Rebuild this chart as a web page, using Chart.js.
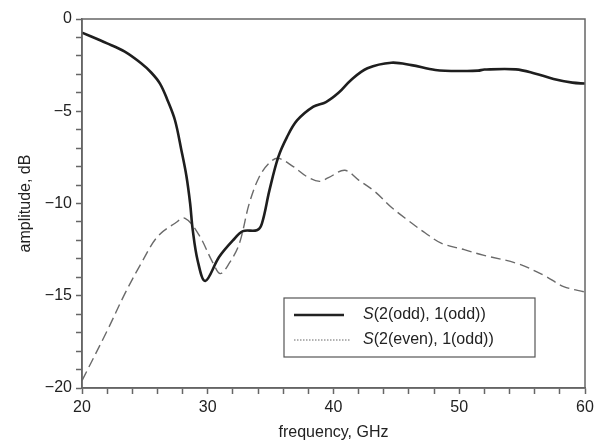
<!DOCTYPE html>
<html>
<head>
<meta charset="utf-8">
<script src="https://cdn.jsdelivr.net/npm/chart.js@4.4.0/dist/chart.umd.min.js"></script>
<style>
  html, body { margin: 0; padding: 0; background: #fff; }
  #wrap { width: 598px; height: 442px; }
</style>
</head>
<body>
<div id="wrap"><canvas id="chart" width="598" height="442"></canvas></div>
<script>
// S(2(odd), 1(odd)) - solid
const freqOdd = [20, 22, 23.4, 24.7, 25.5, 26.2, 26.8, 27.4, 27.9, 28.3, 28.6, 28.8, 29.2, 29.8, 30.9, 32, 32.8, 33.9, 34.3, 34.9, 35.6, 36.3, 37.1, 38.4, 39.4, 40.4, 41.4, 42.7, 44.6, 46.2, 48.1, 50.4, 51.5, 52, 54.5, 56, 57.5, 59, 60];
const ampOdd = [-0.74, -1.32, -1.77, -2.4, -2.9, -3.5, -4.4, -5.5, -7.1, -8.5, -10, -11.4, -13.1, -14.2, -12.9, -12.0, -11.5, -11.45, -11.1, -9.3, -7.5, -6.4, -5.5, -4.75, -4.5, -4.0, -3.3, -2.67, -2.37, -2.5, -2.76, -2.82, -2.8, -2.74, -2.73, -2.95, -3.25, -3.45, -3.5];

// S(2(even), 1(odd)) - dashed
const freqEven = [20, 22, 23.4, 24.7, 26, 27.4, 28.2, 29.3, 30.4, 31, 31.7, 32.5, 33.3, 34.1, 34.9, 35.6, 36.8, 37.9, 38.9, 39.6, 40.9, 42, 43.3, 44.6, 45.9, 47.3, 48.6, 50.4, 51.9, 54.6, 56.75, 58.3, 60];
const ampEven = [-19.6, -16.9, -14.9, -13.25, -11.8, -11.07, -10.8, -11.7, -13.2, -13.8, -13.25, -12.2, -10, -8.55, -7.8, -7.55, -8.0, -8.55, -8.8, -8.6, -8.2, -8.73, -9.36, -10.2, -10.9, -11.6, -12.16, -12.5, -12.8, -13.25, -13.9, -14.5, -14.8];

const seriesLabels = ['(2(odd), 1(odd))', '(2(even), 1(odd))'];

const FONT = 'Liberation Sans, Arial, Helvetica, sans-serif';
const minus = v => (v < 0 ? '\u2212' + Math.abs(v) : String(v));

// box around the plot
const framePlugin = {
    id: 'frame',
    afterDatasetsDraw(chart) {
        const { ctx, chartArea: a } = chart;
        ctx.save();
        ctx.strokeStyle = '#666';
        ctx.lineWidth = 1.5;
        ctx.strokeRect(a.left, a.top, a.right - a.left, a.bottom - a.top);
        ctx.restore();
    }
};

// legend with italic S, drawn inside the plot
const legendPlugin = {
    id: 'boxLegend',
    afterDraw(chart) {
        const ctx = chart.ctx;
        const x = 284, y = 298, w = 251, h = 59;
        ctx.save();
        ctx.fillStyle = '#fff';
        ctx.fillRect(x, y, w, h);
        ctx.strokeStyle = '#555';
        ctx.lineWidth = 1.2;
        ctx.strokeRect(x, y, w, h);

        const rows = [y + 17, y + 42];
        // solid sample
        ctx.strokeStyle = '#222';
        ctx.lineWidth = 2.5;
        ctx.beginPath();
        ctx.moveTo(x + 10, rows[0]);
        ctx.lineTo(x + 60, rows[0]);
        ctx.stroke();
        // dotted sample
        ctx.strokeStyle = '#666';
        ctx.lineWidth = 1;
        ctx.setLineDash([1.5, 1.5]);
        ctx.beginPath();
        ctx.moveTo(x + 10, rows[1]);
        ctx.lineTo(x + 66, rows[1]);
        ctx.stroke();
        ctx.setLineDash([]);

        ctx.fillStyle = '#222';
        ctx.textBaseline = 'middle';
        rows.forEach((ry, i) => {
            ctx.font = 'italic 16px ' + FONT;
            ctx.fillText('S', x + 79, ry);
            const sw = ctx.measureText('S').width;
            ctx.font = '16px ' + FONT;
            ctx.fillText(seriesLabels[i], x + 79 + sw, ry);
        });
        ctx.restore();
    }
};

const toPoints = (xs, ys) => xs.map((f, i) => ({ x: f, y: ys[i] }));

new Chart(document.getElementById('chart'), {
    type: 'line',
    data: {
        datasets: [{
            label: 'S' + seriesLabels[0],
            data: toPoints(freqOdd, ampOdd),
            borderColor: '#1e1e1e',
            borderWidth: 2.6,
            pointRadius: 0,
            tension: 0.35
        }, {
            label: 'S' + seriesLabels[1],
            data: toPoints(freqEven, ampEven),
            borderColor: '#6a6a6a',
            borderWidth: 1.4,
            borderDash: [10, 5],
            pointRadius: 0,
            tension: 0.35
        }]
    },
    options: {
        responsive: false,
        animation: false,
        layout: { padding: { top: 19, right: 13, left: 0, bottom: 0 } },
        plugins: {
            legend: { display: false },
            tooltip: { enabled: false }
        },
        scales: {
            x: {
                type: 'linear',
                min: 20,
                max: 60,
                afterFit: s => { s.height = 54; },
                border: { display: true, color: '#666', width: 1.5 },
                grid: { drawOnChartArea: false, tickLength: 6, color: '#666', tickWidth: 1.5 },
                ticks: {
                    stepSize: 2,
                    autoSkip: false,
                    maxRotation: 0,
                    padding: 4,
                    color: '#222',
                    font: { family: FONT, size: 16 },
                    callback: v => (v % 10 === 0 ? String(v) : '')
                },
                title: {
                    display: true,
                    text: 'frequency, GHz',
                    color: '#222',
                    font: { family: FONT, size: 16 },
                    padding: { top: 0, bottom: 0 }
                }
            },
            y: {
                min: -20,
                max: 0,
                afterFit: s => { s.width = 82; },
                border: { display: true, color: '#666', width: 1.5 },
                grid: { drawOnChartArea: false, tickLength: 6, color: '#666', tickWidth: 1.5 },
                ticks: {
                    stepSize: 1,
                    autoSkip: false,
                    padding: 4,
                    color: '#222',
                    font: { family: FONT, size: 16 },
                    callback: v => (v % 5 === 0 ? minus(v) : '')
                },
                title: {
                    display: true,
                    text: 'amplitude, dB',
                    color: '#222',
                    font: { family: FONT, size: 16 },
                    padding: { top: 16, bottom: 0 }
                }
            }
        }
    },
    plugins: [framePlugin, legendPlugin]
});
</script>
</body>
</html>
